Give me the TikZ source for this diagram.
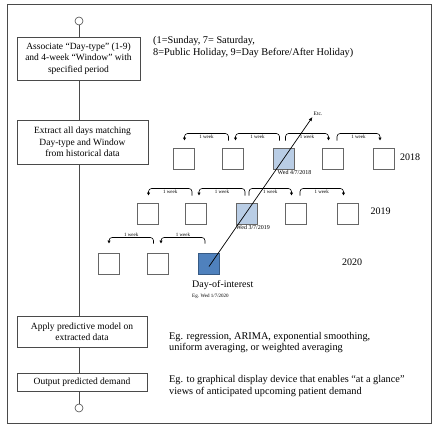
\documentclass[tikz,border=0pt]{standalone}
\usepackage{fontspec}
\setmainfont{Liberation Serif}
\usetikzlibrary{arrows.meta,calc}
\definecolor{lightblu}{HTML}{B9CDE5}
\definecolor{darkblu}{HTML}{4F81BD}
\definecolor{framegray}{HTML}{4A4A4A}
\begin{document}
\begin{tikzpicture}[x=1pt,y=-1pt,
 proc/.style={draw=framegray, line width=0.8pt, align=center, font=\fontsize{9.5}{11.5}\selectfont, inner sep=0pt},
 term/.style={draw=framegray, circle, minimum size=8pt, inner sep=0pt, line width=0.6pt},
 link/.style={draw=framegray, line width=0.8pt},
 sq/.style={draw=gray!80!black, line width=0.9pt, minimum size=21pt, inner sep=0pt},
 note/.style={anchor=west, align=left, font=\fontsize{10.3}{11.5}\selectfont, inner sep=0pt},
 wk/.style={line width=0.6pt, rounded corners=3pt, -{Latex[length=3pt,width=3.5pt]}},
 wkl/.style={font=\fontsize{5}{6}\selectfont, inner sep=1pt},
 yr/.style={font=\fontsize{10}{12}\selectfont, inner sep=0pt},
 small/.style={font=\fontsize{6}{7}\selectfont, inner sep=0pt, anchor=north west},
]
\useasboundingbox (0,0) rectangle (439,430);
\draw[framegray, line width=1pt] (7,5) rectangle (431,423);

% flow
\node[term] (start) at (79,21) {};
\node[proc, minimum width=123pt, minimum height=43pt] (b1) at (78.5,58.5) {Associate “Day-type” (1-9)\\and 4-week “Window” with\\specified period};
\node[proc, minimum width=131pt, minimum height=44pt] (b2) at (82.5,142) {Extract all days matching\\Day-type and Window\\from historical data};
\node[proc, minimum width=130pt, minimum height=31pt] (b3) at (82,331.5) {Apply predictive model on\\extracted data};
\node[proc, minimum width=130pt, minimum height=18pt] (b4) at (82,382) {Output predicted demand};
\node[term] (stop) at (79,408) {};

\draw[link] (start.south) -- (start.south |- b1.north);
\draw[link] (start |- b1.south) -- (start |- b2.north);
\draw[link] (start |- b2.south) -- (start |- b3.north);
\draw[link] (start |- b3.south) -- (start |- b4.north);
\draw[link] (start |- b4.south) -- (stop.north);

% notes
\node[note] (n1) at (153,47) {(1=Sunday, 7= Saturday,\\8=Public Holiday, 9=Day Before/After Holiday)};
\node[note] (n3) at (169,342.5) {Eg. regression, ARIMA, exponential smoothing,\\uniform averaging, or weighted averaging};
\node[note] (n4) at (169,386) {Eg. to graphical display device that enables “at a glance”\\views of anticipated upcoming patient demand};

% 2018 row
\node[sq] (r1c1) at (183.5,158.5) {};
\node[sq] (r1c2) at (232.5,158.5) {};
\node[sq, fill=lightblu] (r1c3) at (283.5,158.5) {};
\node[sq] (r1c4) at (333,158.5) {};
\node[sq] (r1c5) at (384,158.5) {};
\node[yr] (y18) at (410,157) {2018};
\node[small] (l18) at ([xshift=-6pt,yshift=-1pt]r1c3.south) {Wed 4/7/2018};

% 2019 row
\node[sq] (r2c1) at (147.5,213.5) {};
\node[sq] (r2c2) at (196,213.5) {};
\node[sq, fill=lightblu] (r2c3) at (247,213.5) {};
\node[sq] (r2c4) at (296,213.5) {};
\node[sq] (r2c5) at (347.5,213.5) {};
\node[yr] (y19) at (380.5,211) {2019};
\node[small] (l19) at ([xshift=-11pt,yshift=-1pt]r2c3.south) {Wed 3/7/2019};

% 2020 row
\node[sq] (r3c1) at (108.5,263.5) {};
\node[sq] (r3c2) at (157.5,263.5) {};
\node[sq, fill=darkblu, draw=darkblu!70!black] (r3c3) at (209,263.5) {};
\node[yr] (y20) at (352,262) {2020};
\node[anchor=north west, inner sep=0pt, font=\fontsize{10}{12}\selectfont] (doi) at (192,280) {Day-of-interest};
\node[anchor=north west, inner sep=0pt, font=\fontsize{5}{6}\selectfont] (eg) at (192,293.5) {Eg. Wed 1/7/2020};

% etc arrow
\node[inner sep=1pt, font=\fontsize{5.5}{6}\selectfont] (etc) at (318,114) {Etc.};
\draw[line width=0.7pt, -{Latex[length=4pt,width=3.5pt]}] ([yshift=-3pt]r3c3.center) -- (etc.south west);

% week brackets 2018
\draw[wk] ([xshift=-4pt,yshift=7pt]r1c2.north) -- ++(0,-7) -| node[pos=0.25,below,wkl]{1 week} ([xshift=1pt,yshift=7pt]r1c1.north);
\draw[wk] ([xshift=-4pt,yshift=7pt]r1c3.north) -- ++(0,-7) -| node[pos=0.25,below,wkl]{1 week} ([xshift=3pt,yshift=7pt]r1c2.north);
\draw[wk] ([xshift=2pt,yshift=7pt]r1c3.north) -- ++(0,-7) -| node[pos=0.25,below,wkl]{1 week} ([xshift=-4.5pt,yshift=7pt]r1c4.north);
\draw[wk] ([xshift=4pt,yshift=7pt]r1c4.north) -- ++(0,-7) -| node[pos=0.25,below,wkl]{1 week} ([xshift=-4pt,yshift=7pt]r1c5.north);

% week brackets 2019
\draw[wk] ([xshift=-4pt,yshift=7pt]r2c2.north) -- ++(0,-7) -| node[pos=0.25,below,wkl]{1 week} ([xshift=1pt,yshift=7pt]r2c1.north);
\draw[wk] ([xshift=-2pt,yshift=7pt]r2c3.north) -- ++(0,-7) -| node[pos=0.25,below,wkl]{1 week} ([xshift=3pt,yshift=7pt]r2c2.north);
\draw[wk] ([xshift=2pt,yshift=7pt]r2c3.north) -- ++(0,-7) -| node[pos=0.25,below,wkl]{1 week} ([xshift=-4.5pt,yshift=7pt]r2c4.north);
\draw[wk] ([xshift=4pt,yshift=7pt]r2c4.north) -- ++(0,-7) -| node[pos=0.25,below,wkl]{1 week} ([xshift=-4pt,yshift=7pt]r2c5.north);

% week brackets 2020
\draw[wk] ([xshift=-4pt,yshift=9pt]r3c2.north) -- ++(0,-6) -| node[pos=0.25,above,wkl]{1 week} ([xshift=0.5pt,yshift=9pt]r3c1.north);
\draw[wk] ([xshift=-4pt,yshift=9pt]r3c3.north) -- ++(0,-6) -| node[pos=0.25,above,wkl]{1 week} ([xshift=3.5pt,yshift=9pt]r3c2.north);
\end{tikzpicture}
\end{document}
